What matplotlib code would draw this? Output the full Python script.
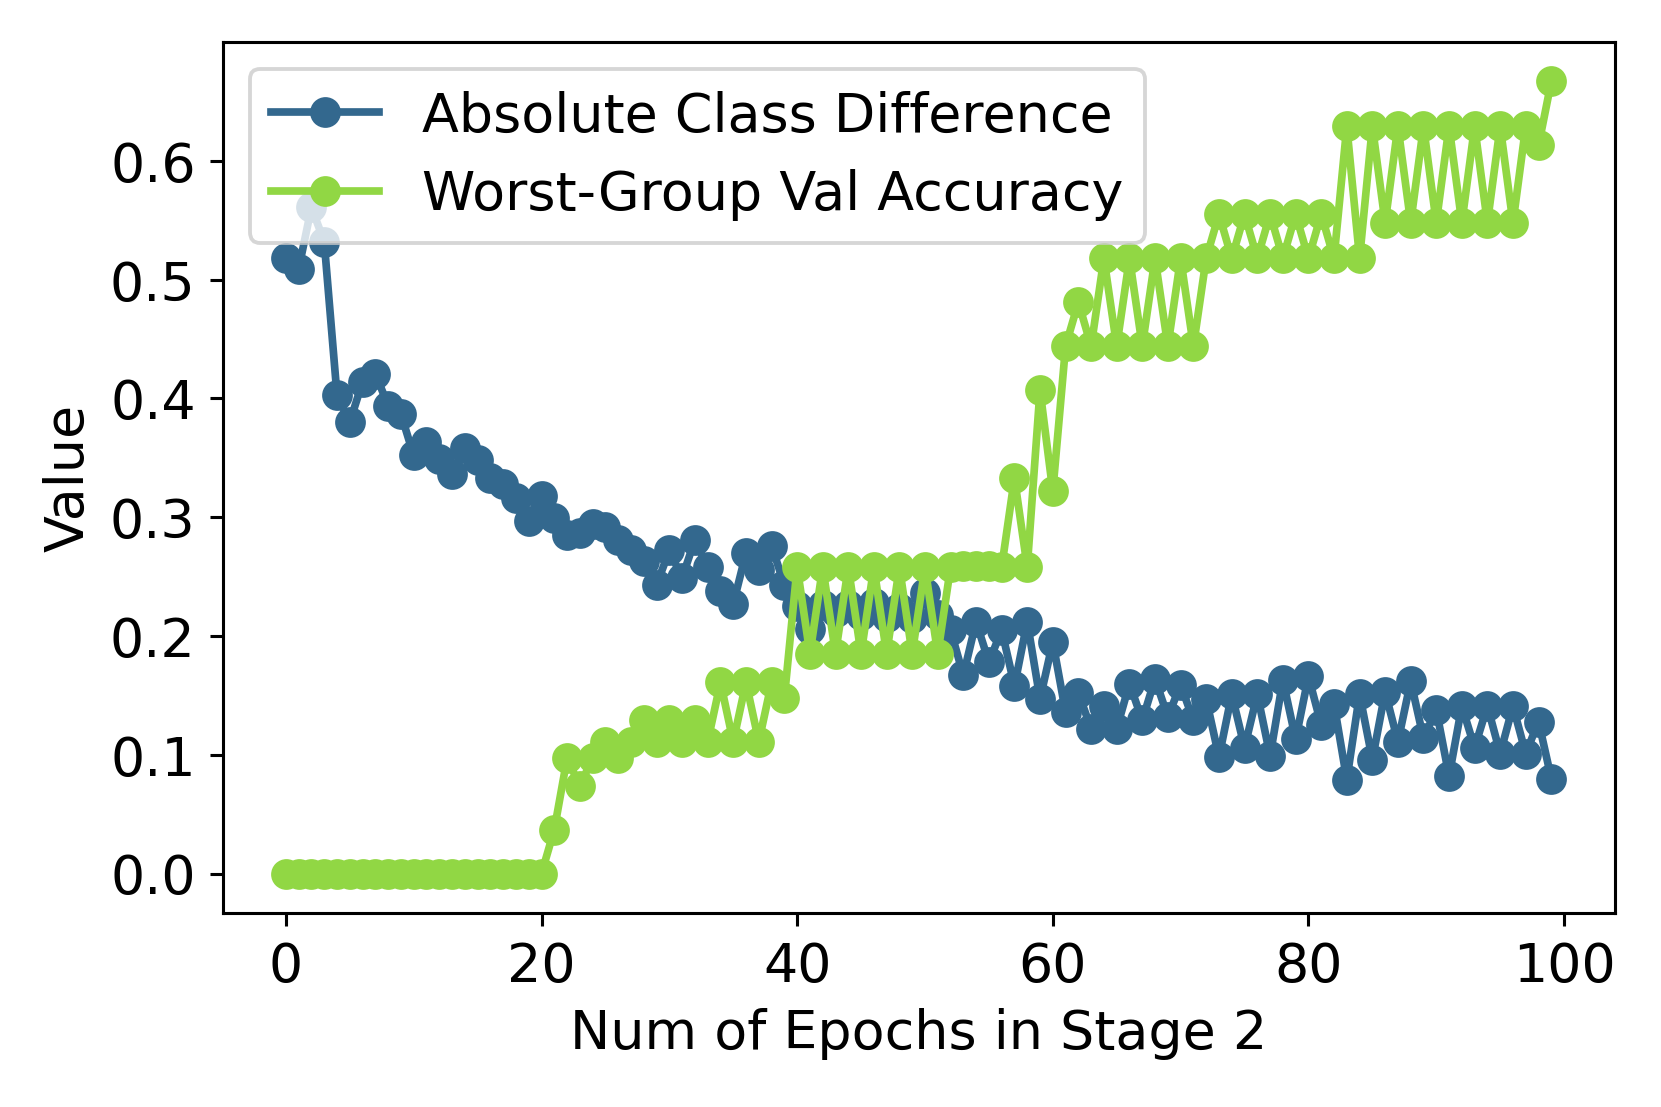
import matplotlib
matplotlib.use("Agg")
import matplotlib.pyplot as plt
import numpy as np

epochs = list(range(100))

abs_class_diff = [
    0.518, 0.509, 0.561, 0.532, 0.403, 0.380, 0.414, 0.421, 0.394, 0.387,
    0.352, 0.363, 0.349, 0.336, 0.358, 0.348, 0.333, 0.328, 0.316, 0.297,
    0.318, 0.299, 0.285, 0.287, 0.294, 0.292, 0.281, 0.272, 0.263, 0.243,
    0.272, 0.249, 0.281, 0.258, 0.238, 0.227, 0.270, 0.256, 0.276, 0.243,
    0.225, 0.206, 0.226, 0.220, 0.226, 0.218, 0.228, 0.216, 0.224, 0.215,
    0.236, 0.218, 0.205, 0.167, 0.212, 0.178, 0.205, 0.158, 0.212, 0.147,
    0.195, 0.136, 0.152, 0.122, 0.141, 0.122, 0.160, 0.129, 0.164, 0.132,
    0.159, 0.129, 0.147, 0.098, 0.151, 0.106, 0.151, 0.099, 0.163, 0.113,
    0.166, 0.125, 0.143, 0.079, 0.151, 0.096, 0.153, 0.111, 0.162, 0.114,
    0.138, 0.082, 0.141, 0.106, 0.141, 0.101, 0.141, 0.101, 0.128, 0.080,
]

worst_group_acc = [
    0.0, 0.0, 0.0, 0.0, 0.0, 0.0, 0.0, 0.0, 0.0, 0.0,
    0.0, 0.0, 0.0, 0.0, 0.0, 0.0, 0.0, 0.0, 0.0, 0.0,
    0.0, 0.037, 0.097, 0.074, 0.097, 0.111, 0.097, 0.111, 0.129, 0.111,
    0.129, 0.111, 0.129, 0.111, 0.161, 0.111, 0.161, 0.111, 0.161, 0.148,
    0.258, 0.185, 0.258, 0.185, 0.258, 0.185, 0.258, 0.185, 0.258, 0.185,
    0.258, 0.185, 0.258, 0.259, 0.259, 0.259, 0.258, 0.333, 0.258, 0.407,
    0.322, 0.444, 0.481, 0.444, 0.518, 0.444, 0.518, 0.444, 0.518, 0.444,
    0.518, 0.444, 0.518, 0.555, 0.518, 0.555, 0.518, 0.555, 0.518, 0.555,
    0.518, 0.555, 0.518, 0.629, 0.518, 0.629, 0.548, 0.629, 0.548, 0.629,
    0.548, 0.629, 0.548, 0.629, 0.548, 0.629, 0.548, 0.629, 0.613, 0.667,
]

labels = ["Absolute Class Difference", "Worst-Group Val Accuracy"]

plt.rcParams['font.family'] = ['DejaVu Sans']
fig, ax = plt.subplots(figsize=(6, 4), dpi=276.85)
fig.subplots_adjust(left=0.134, right=0.972, top=0.962, bottom=0.175)

ax.plot(epochs, abs_class_diff, '-o', color='#33688e', lw=2, ms=7, label=labels[0])
ax.plot(epochs, worst_group_acc, '-o', color='#91d744', lw=2, ms=7, label=labels[1])

ax.set_xlabel("Num of Epochs in Stage 2", fontsize=14)
ax.set_ylabel("Value", fontsize=14)
ax.tick_params(labelsize=14)
ax.set_xticks([0, 20, 40, 60, 80, 100])
ax.set_yticks([0.0, 0.1, 0.2, 0.3, 0.4, 0.5, 0.6])
ax.legend(loc='upper left', fontsize=14)

fig.savefig("out.png", dpi=276.85)
